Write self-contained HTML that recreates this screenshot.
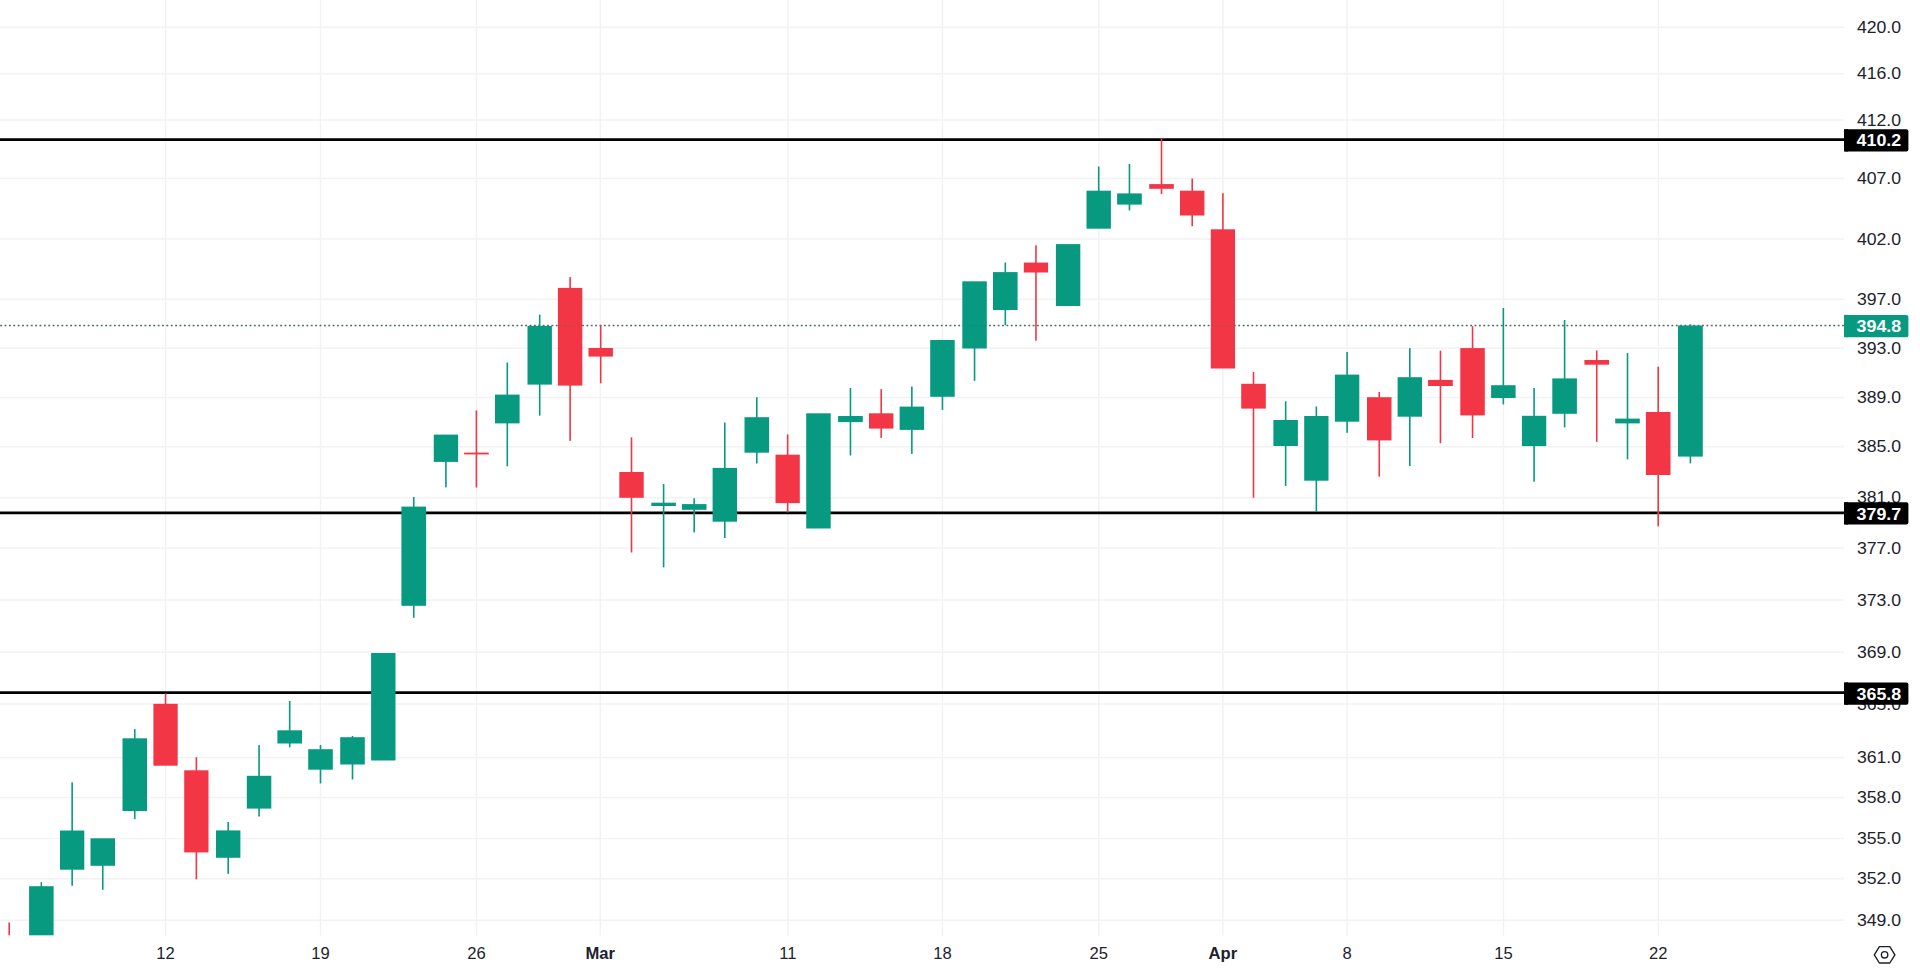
<!DOCTYPE html>
<html lang="en">
<head>
<meta charset="utf-8">
<title>Chart</title>
<style>
html,body{margin:0;padding:0;background:#fff;}
body{width:1920px;height:970px;overflow:hidden;position:relative;font-family:"Liberation Sans",sans-serif;}
svg{position:absolute;left:0;top:0;display:block;}
text{font-family:"Liberation Sans",sans-serif;}
</style>
</head>
<body>
<svg width="1920" height="970" viewBox="0 0 1920 970">
<rect x="0" y="0" width="1920" height="970" fill="#ffffff"/>
<defs><clipPath id="pane"><rect x="0" y="0" width="1844" height="935.6"/></clipPath></defs>

<g id="grid" stroke="#f2f2f2" stroke-width="1.4">
<line x1="165.6" y1="0" x2="165.6" y2="935.6"/>
<line x1="320.5" y1="0" x2="320.5" y2="935.6"/>
<line x1="476.4" y1="0" x2="476.4" y2="935.6"/>
<line x1="600.3" y1="0" x2="600.3" y2="935.6"/>
<line x1="787.8" y1="0" x2="787.8" y2="935.6"/>
<line x1="942.5" y1="0" x2="942.5" y2="935.6"/>
<line x1="1098.8" y1="0" x2="1098.8" y2="935.6"/>
<line x1="1222.9" y1="0" x2="1222.9" y2="935.6"/>
<line x1="1347.1" y1="0" x2="1347.1" y2="935.6"/>
<line x1="1503.5" y1="0" x2="1503.5" y2="935.6"/>
<line x1="1658.3" y1="0" x2="1658.3" y2="935.6"/>
<line x1="0" y1="27.2" x2="1844.0" y2="27.2"/>
<line x1="0" y1="73.7" x2="1844.0" y2="73.7"/>
<line x1="0" y1="120.0" x2="1844.0" y2="120.0"/>
<line x1="0" y1="178.5" x2="1844.0" y2="178.5"/>
<line x1="0" y1="239.0" x2="1844.0" y2="239.0"/>
<line x1="0" y1="299.2" x2="1844.0" y2="299.2"/>
<line x1="0" y1="348.2" x2="1844.0" y2="348.2"/>
<line x1="0" y1="397.5" x2="1844.0" y2="397.5"/>
<line x1="0" y1="446.8" x2="1844.0" y2="446.8"/>
<line x1="0" y1="497.8" x2="1844.0" y2="497.8"/>
<line x1="0" y1="548.1" x2="1844.0" y2="548.1"/>
<line x1="0" y1="600.0" x2="1844.0" y2="600.0"/>
<line x1="0" y1="652.3" x2="1844.0" y2="652.3"/>
<line x1="0" y1="704.0" x2="1844.0" y2="704.0"/>
<line x1="0" y1="757.5" x2="1844.0" y2="757.5"/>
<line x1="0" y1="797.5" x2="1844.0" y2="797.5"/>
<line x1="0" y1="838.6" x2="1844.0" y2="838.6"/>
<line x1="0" y1="878.7" x2="1844.0" y2="878.7"/>
<line x1="0" y1="920.2" x2="1844.0" y2="920.2"/>
</g>
<g id="levels" stroke="#000000" stroke-width="2.7">
<line x1="0" y1="139.7" x2="1845.0" y2="139.7"/>
<line x1="0" y1="512.8" x2="1845.0" y2="512.8"/>
<line x1="0" y1="692.7" x2="1845.0" y2="692.7"/>
</g>
<line x1="0.2" y1="325.6" x2="1844" y2="325.6" stroke="#4f7068" stroke-width="1.5" stroke-dasharray="1.8 2.575"/>
<g id="candles" clip-path="url(#pane)">
<rect x="8.40" y="922.5" width="1.6" height="13.1" fill="#f23645"/>
<rect x="40.55" y="882.2" width="1.6" height="4.6" fill="#089981"/>
<rect x="29.10" y="886.2" width="24.50" height="49.4" fill="#089981"/>
<rect x="71.35" y="782.3" width="1.6" height="48.8" fill="#089981"/>
<rect x="71.35" y="869.1" width="1.6" height="16.7" fill="#089981"/>
<rect x="60.00" y="830.5" width="24.30" height="39.2" fill="#089981"/>
<rect x="101.95" y="865.2" width="1.6" height="24.6" fill="#089981"/>
<rect x="90.50" y="838.3" width="24.50" height="27.5" fill="#089981"/>
<rect x="133.95" y="729.1" width="1.6" height="9.8" fill="#089981"/>
<rect x="133.95" y="810.5" width="1.6" height="8.7" fill="#089981"/>
<rect x="122.50" y="738.3" width="24.50" height="72.8" fill="#089981"/>
<rect x="164.75" y="693.5" width="1.6" height="10.9" fill="#f23645"/>
<rect x="153.40" y="703.8" width="24.30" height="61.9" fill="#f23645"/>
<rect x="195.55" y="757.2" width="1.6" height="13.7" fill="#f23645"/>
<rect x="195.55" y="851.8" width="1.6" height="27.5" fill="#f23645"/>
<rect x="184.20" y="770.3" width="24.30" height="82.1" fill="#f23645"/>
<rect x="227.40" y="822.1" width="1.6" height="8.9" fill="#089981"/>
<rect x="227.40" y="857.2" width="1.6" height="16.6" fill="#089981"/>
<rect x="216.00" y="830.4" width="24.40" height="27.4" fill="#089981"/>
<rect x="258.25" y="745.1" width="1.6" height="31.3" fill="#089981"/>
<rect x="258.25" y="808.0" width="1.6" height="8.5" fill="#089981"/>
<rect x="246.80" y="775.8" width="24.50" height="32.8" fill="#089981"/>
<rect x="288.90" y="701.0" width="1.6" height="29.9" fill="#089981"/>
<rect x="288.90" y="742.9" width="1.6" height="4.4" fill="#089981"/>
<rect x="277.40" y="730.3" width="24.60" height="13.2" fill="#089981"/>
<rect x="319.70" y="745.0" width="1.6" height="4.8" fill="#089981"/>
<rect x="319.70" y="769.1" width="1.6" height="14.4" fill="#089981"/>
<rect x="308.20" y="749.2" width="24.60" height="20.5" fill="#089981"/>
<rect x="351.70" y="736.0" width="1.6" height="1.8" fill="#089981"/>
<rect x="351.70" y="763.9" width="1.6" height="15.6" fill="#089981"/>
<rect x="340.20" y="737.2" width="24.60" height="27.3" fill="#089981"/>
<rect x="371.10" y="653.0" width="24.40" height="107.5" fill="#089981"/>
<rect x="412.95" y="496.9" width="1.6" height="10.3" fill="#089981"/>
<rect x="412.95" y="605.2" width="1.6" height="12.6" fill="#089981"/>
<rect x="401.40" y="506.6" width="24.70" height="99.2" fill="#089981"/>
<rect x="445.12" y="461.3" width="1.6" height="26.1" fill="#089981"/>
<rect x="433.75" y="434.6" width="24.35" height="27.3" fill="#089981"/>
<rect x="475.62" y="410.4" width="1.6" height="42.8" fill="#f23645"/>
<rect x="475.62" y="453.8" width="1.6" height="33.7" fill="#f23645"/>
<rect x="464.10" y="452.6" width="24.65" height="1.8" fill="#f23645"/>
<rect x="506.50" y="362.5" width="1.6" height="32.7" fill="#089981"/>
<rect x="506.50" y="422.8" width="1.6" height="43.5" fill="#089981"/>
<rect x="495.00" y="394.6" width="24.60" height="28.8" fill="#089981"/>
<rect x="538.90" y="314.6" width="1.6" height="11.9" fill="#089981"/>
<rect x="538.90" y="384.0" width="1.6" height="31.6" fill="#089981"/>
<rect x="527.50" y="325.9" width="24.40" height="58.7" fill="#089981"/>
<rect x="569.30" y="277.1" width="1.6" height="11.4" fill="#f23645"/>
<rect x="569.30" y="385.0" width="1.6" height="55.9" fill="#f23645"/>
<rect x="557.90" y="287.9" width="24.40" height="97.7" fill="#f23645"/>
<rect x="599.90" y="325.4" width="1.6" height="23.2" fill="#f23645"/>
<rect x="599.90" y="356.0" width="1.6" height="27.3" fill="#f23645"/>
<rect x="588.50" y="348.0" width="24.40" height="8.6" fill="#f23645"/>
<rect x="630.70" y="437.3" width="1.6" height="35.3" fill="#f23645"/>
<rect x="630.70" y="497.2" width="1.6" height="55.3" fill="#f23645"/>
<rect x="619.30" y="472.0" width="24.40" height="25.8" fill="#f23645"/>
<rect x="662.80" y="484.0" width="1.6" height="19.3" fill="#089981"/>
<rect x="662.80" y="505.4" width="1.6" height="61.9" fill="#089981"/>
<rect x="651.30" y="502.7" width="24.60" height="3.3" fill="#089981"/>
<rect x="693.40" y="498.3" width="1.6" height="6.4" fill="#089981"/>
<rect x="693.40" y="509.2" width="1.6" height="23.2" fill="#089981"/>
<rect x="681.90" y="504.1" width="24.60" height="5.7" fill="#089981"/>
<rect x="724.00" y="422.5" width="1.6" height="46.0" fill="#089981"/>
<rect x="724.00" y="521.1" width="1.6" height="16.9" fill="#089981"/>
<rect x="712.60" y="467.9" width="24.40" height="53.8" fill="#089981"/>
<rect x="756.00" y="397.2" width="1.6" height="20.6" fill="#089981"/>
<rect x="756.00" y="452.1" width="1.6" height="11.4" fill="#089981"/>
<rect x="744.50" y="417.2" width="24.60" height="35.5" fill="#089981"/>
<rect x="786.85" y="434.4" width="1.6" height="20.9" fill="#f23645"/>
<rect x="786.85" y="502.5" width="1.6" height="10.0" fill="#f23645"/>
<rect x="775.50" y="454.7" width="24.30" height="48.4" fill="#f23645"/>
<rect x="806.20" y="413.3" width="24.50" height="115.2" fill="#089981"/>
<rect x="849.65" y="388.0" width="1.6" height="28.6" fill="#089981"/>
<rect x="849.65" y="421.5" width="1.6" height="34.0" fill="#089981"/>
<rect x="838.10" y="416.0" width="24.70" height="6.1" fill="#089981"/>
<rect x="880.40" y="389.2" width="1.6" height="24.7" fill="#f23645"/>
<rect x="880.40" y="428.0" width="1.6" height="9.9" fill="#f23645"/>
<rect x="869.00" y="413.3" width="24.40" height="15.3" fill="#f23645"/>
<rect x="911.05" y="386.5" width="1.6" height="20.7" fill="#089981"/>
<rect x="911.05" y="429.3" width="1.6" height="24.6" fill="#089981"/>
<rect x="899.60" y="406.6" width="24.50" height="23.3" fill="#089981"/>
<rect x="941.65" y="396.2" width="1.6" height="13.7" fill="#089981"/>
<rect x="930.20" y="340.0" width="24.50" height="56.8" fill="#089981"/>
<rect x="973.75" y="347.9" width="1.6" height="32.9" fill="#089981"/>
<rect x="962.30" y="281.3" width="24.50" height="67.2" fill="#089981"/>
<rect x="1004.50" y="262.5" width="1.6" height="10.2" fill="#089981"/>
<rect x="1004.50" y="309.4" width="1.6" height="15.8" fill="#089981"/>
<rect x="993.00" y="272.1" width="24.60" height="37.9" fill="#089981"/>
<rect x="1035.15" y="245.3" width="1.6" height="17.9" fill="#f23645"/>
<rect x="1035.15" y="271.9" width="1.6" height="68.8" fill="#f23645"/>
<rect x="1023.80" y="262.6" width="24.30" height="9.9" fill="#f23645"/>
<rect x="1055.90" y="244.1" width="24.40" height="61.9" fill="#089981"/>
<rect x="1097.90" y="166.5" width="1.6" height="24.8" fill="#089981"/>
<rect x="1086.50" y="190.7" width="24.40" height="38.0" fill="#089981"/>
<rect x="1128.65" y="164.0" width="1.6" height="30.0" fill="#089981"/>
<rect x="1128.65" y="204.0" width="1.6" height="6.4" fill="#089981"/>
<rect x="1117.10" y="193.4" width="24.70" height="11.2" fill="#089981"/>
<rect x="1160.70" y="138.5" width="1.6" height="46.2" fill="#f23645"/>
<rect x="1160.70" y="188.2" width="1.6" height="5.9" fill="#f23645"/>
<rect x="1149.20" y="184.1" width="24.60" height="4.7" fill="#f23645"/>
<rect x="1191.40" y="178.5" width="1.6" height="12.8" fill="#f23645"/>
<rect x="1191.40" y="214.9" width="1.6" height="11.3" fill="#f23645"/>
<rect x="1180.00" y="190.7" width="24.40" height="24.8" fill="#f23645"/>
<rect x="1222.10" y="193.2" width="1.6" height="36.7" fill="#f23645"/>
<rect x="1210.80" y="229.3" width="24.20" height="139.2" fill="#f23645"/>
<rect x="1252.70" y="371.9" width="1.6" height="12.5" fill="#f23645"/>
<rect x="1252.70" y="408.0" width="1.6" height="89.8" fill="#f23645"/>
<rect x="1241.20" y="383.8" width="24.60" height="24.8" fill="#f23645"/>
<rect x="1284.85" y="401.3" width="1.6" height="19.3" fill="#089981"/>
<rect x="1284.85" y="445.4" width="1.6" height="40.6" fill="#089981"/>
<rect x="1273.40" y="420.0" width="24.50" height="26.0" fill="#089981"/>
<rect x="1315.55" y="406.5" width="1.6" height="10.1" fill="#089981"/>
<rect x="1315.55" y="480.1" width="1.6" height="31.6" fill="#089981"/>
<rect x="1304.20" y="416.0" width="24.30" height="64.7" fill="#089981"/>
<rect x="1346.30" y="352.0" width="1.6" height="23.2" fill="#089981"/>
<rect x="1346.30" y="421.1" width="1.6" height="11.7" fill="#089981"/>
<rect x="1334.90" y="374.6" width="24.40" height="47.1" fill="#089981"/>
<rect x="1378.45" y="392.0" width="1.6" height="5.8" fill="#f23645"/>
<rect x="1378.45" y="439.8" width="1.6" height="36.8" fill="#f23645"/>
<rect x="1367.00" y="397.2" width="24.50" height="43.2" fill="#f23645"/>
<rect x="1409.00" y="348.2" width="1.6" height="29.6" fill="#089981"/>
<rect x="1409.00" y="416.1" width="1.6" height="50.0" fill="#089981"/>
<rect x="1397.60" y="377.2" width="24.40" height="39.5" fill="#089981"/>
<rect x="1439.65" y="350.6" width="1.6" height="29.9" fill="#f23645"/>
<rect x="1439.65" y="385.4" width="1.6" height="57.8" fill="#f23645"/>
<rect x="1428.10" y="379.9" width="24.70" height="6.1" fill="#f23645"/>
<rect x="1471.75" y="326.2" width="1.6" height="22.5" fill="#f23645"/>
<rect x="1471.75" y="414.8" width="1.6" height="23.2" fill="#f23645"/>
<rect x="1460.30" y="348.1" width="24.50" height="67.3" fill="#f23645"/>
<rect x="1502.55" y="308.0" width="1.6" height="77.8" fill="#089981"/>
<rect x="1502.55" y="397.4" width="1.6" height="7.1" fill="#089981"/>
<rect x="1491.10" y="385.2" width="24.50" height="12.8" fill="#089981"/>
<rect x="1533.28" y="388.0" width="1.6" height="28.4" fill="#089981"/>
<rect x="1533.28" y="445.5" width="1.6" height="36.2" fill="#089981"/>
<rect x="1521.90" y="415.8" width="24.35" height="30.3" fill="#089981"/>
<rect x="1563.80" y="320.0" width="1.6" height="59.0" fill="#089981"/>
<rect x="1563.80" y="413.2" width="1.6" height="14.2" fill="#089981"/>
<rect x="1552.30" y="378.4" width="24.60" height="35.4" fill="#089981"/>
<rect x="1595.95" y="350.5" width="1.6" height="10.1" fill="#f23645"/>
<rect x="1595.95" y="364.1" width="1.6" height="77.8" fill="#f23645"/>
<rect x="1584.40" y="360.0" width="24.70" height="4.7" fill="#f23645"/>
<rect x="1626.70" y="353.1" width="1.6" height="66.1" fill="#089981"/>
<rect x="1626.70" y="422.8" width="1.6" height="36.6" fill="#089981"/>
<rect x="1615.20" y="418.6" width="24.60" height="4.8" fill="#089981"/>
<rect x="1657.40" y="366.6" width="1.6" height="46.0" fill="#f23645"/>
<rect x="1657.40" y="474.4" width="1.6" height="51.9" fill="#f23645"/>
<rect x="1645.90" y="412.0" width="24.60" height="63.0" fill="#f23645"/>
<rect x="1689.60" y="324.3" width="1.6" height="1.8" fill="#089981"/>
<rect x="1689.60" y="456.0" width="1.6" height="7.3" fill="#089981"/>
<rect x="1678.00" y="325.5" width="24.80" height="131.1" fill="#089981"/>
</g>
<line x1="0.2" y1="325.6" x2="1844" y2="325.6" stroke="#3e5f58" stroke-width="1.4" stroke-dasharray="1.7 2.675" opacity="0.22"/>
<g id="plabels" fill="#1e222d" font-size="16.6" text-anchor="start">
<text x="1856.9" y="32.8" textLength="44.2" lengthAdjust="spacingAndGlyphs">420.0</text>
<text x="1856.9" y="79.3" textLength="44.2" lengthAdjust="spacingAndGlyphs">416.0</text>
<text x="1856.9" y="125.6" textLength="44.2" lengthAdjust="spacingAndGlyphs">412.0</text>
<text x="1856.9" y="184.1" textLength="44.2" lengthAdjust="spacingAndGlyphs">407.0</text>
<text x="1856.9" y="244.6" textLength="44.2" lengthAdjust="spacingAndGlyphs">402.0</text>
<text x="1856.9" y="304.8" textLength="44.2" lengthAdjust="spacingAndGlyphs">397.0</text>
<text x="1856.9" y="353.8" textLength="44.2" lengthAdjust="spacingAndGlyphs">393.0</text>
<text x="1856.9" y="403.1" textLength="44.2" lengthAdjust="spacingAndGlyphs">389.0</text>
<text x="1856.9" y="452.4" textLength="44.2" lengthAdjust="spacingAndGlyphs">385.0</text>
<text x="1856.9" y="503.4" textLength="44.2" lengthAdjust="spacingAndGlyphs">381.0</text>
<text x="1856.9" y="553.7" textLength="44.2" lengthAdjust="spacingAndGlyphs">377.0</text>
<text x="1856.9" y="605.6" textLength="44.2" lengthAdjust="spacingAndGlyphs">373.0</text>
<text x="1856.9" y="657.9" textLength="44.2" lengthAdjust="spacingAndGlyphs">369.0</text>
<text x="1856.9" y="709.6" textLength="44.2" lengthAdjust="spacingAndGlyphs">365.0</text>
<text x="1856.9" y="763.1" textLength="44.2" lengthAdjust="spacingAndGlyphs">361.0</text>
<text x="1856.9" y="803.1" textLength="44.2" lengthAdjust="spacingAndGlyphs">358.0</text>
<text x="1856.9" y="844.2" textLength="44.2" lengthAdjust="spacingAndGlyphs">355.0</text>
<text x="1856.9" y="884.3" textLength="44.2" lengthAdjust="spacingAndGlyphs">352.0</text>
<text x="1856.9" y="925.8" textLength="44.2" lengthAdjust="spacingAndGlyphs">349.0</text>
</g>
<rect x="1844" y="129.2" width="64.4" height="22.3" rx="2" ry="2" fill="#000000"/>
<rect x="1844" y="129.2" width="4" height="22.3" fill="#000000"/>
<text x="1856.6" y="146.4" font-size="16.6" font-weight="bold" fill="#ffffff" textLength="44.6" lengthAdjust="spacingAndGlyphs">410.2</text>
<rect x="1844" y="314.9" width="64.4" height="22.3" rx="2" ry="2" fill="#089981"/>
<rect x="1844" y="314.9" width="4" height="22.3" fill="#089981"/>
<text x="1856.6" y="332.1" font-size="16.6" font-weight="bold" fill="#ffffff" textLength="44.6" lengthAdjust="spacingAndGlyphs">394.8</text>
<rect x="1844" y="502.2" width="64.4" height="22.3" rx="2" ry="2" fill="#000000"/>
<rect x="1844" y="502.2" width="4" height="22.3" fill="#000000"/>
<text x="1856.6" y="519.5" font-size="16.6" font-weight="bold" fill="#ffffff" textLength="44.6" lengthAdjust="spacingAndGlyphs">379.7</text>
<rect x="1844" y="682.4" width="64.4" height="22.3" rx="2" ry="2" fill="#000000"/>
<rect x="1844" y="682.4" width="4" height="22.3" fill="#000000"/>
<text x="1856.6" y="699.6" font-size="16.6" font-weight="bold" fill="#ffffff" textLength="44.6" lengthAdjust="spacingAndGlyphs">365.8</text>
<g id="tlabels" fill="#1e222d" font-size="16.6" text-anchor="middle">
<text x="165.6" y="959.4">12</text>
<text x="320.5" y="959.4">19</text>
<text x="476.4" y="959.4">26</text>
<text x="600.3" y="959.4" font-weight="bold">Mar</text>
<text x="787.8" y="959.4">11</text>
<text x="942.5" y="959.4">18</text>
<text x="1098.8" y="959.4">25</text>
<text x="1222.9" y="959.4" font-weight="bold">Apr</text>
<text x="1347.1" y="959.4">8</text>
<text x="1503.5" y="959.4">15</text>
<text x="1658.3" y="959.4">22</text>
</g>
<g id="gear" fill="none" stroke="#1e222d" stroke-width="1.4" stroke-linejoin="round">
<path d="M1874.3 954.8 L1879.4 946.6 L1889.8 946.6 L1894.9 954.8 L1889.8 963 L1879.4 963 Z"/>
<circle cx="1884.6" cy="954.8" r="3.2"/>
</g>
</svg>
</body>
</html>
